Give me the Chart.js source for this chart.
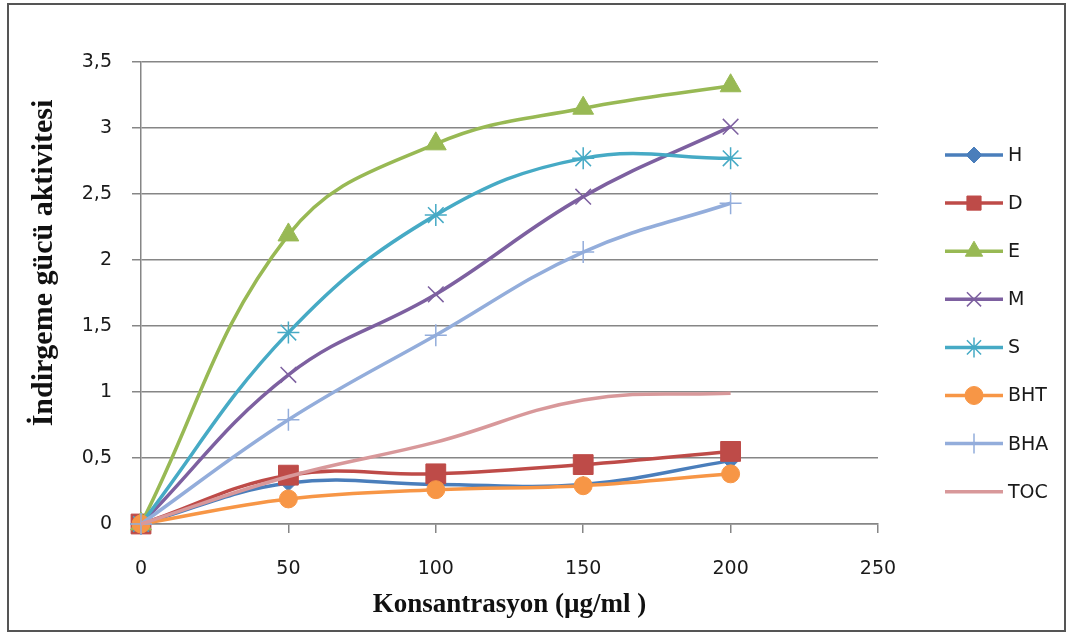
<!DOCTYPE html>
<html>
<head>
<meta charset="utf-8">
<script src="https://cdn.jsdelivr.net/npm/chart.js@4.4.1/dist/chart.umd.min.js"></script>
<style>
  body { margin: 0; background: #fff; }
  #frame { position: absolute; left: 7px; top: 3px; width: 1059px; height: 629px; border: 2px solid #555; box-sizing: border-box; }
  #myChart { position: absolute; left: 0; top: 0; }
</style>
</head>
<body>
<div id="frame"></div>
<canvas id="myChart" width="1071" height="636"></canvas>
<script>
// concentrations (µg/ml) and reducing power values per sample
const concentrations = [0, 50, 100, 150, 200];
const seriesNames = ['H', 'D', 'E', 'M', 'S', 'BHT', 'BHA', 'TOC'];
const valuesH = [0, 0.31, 0.30, 0.30, 0.48];
const valuesD = [0, 0.37, 0.38, 0.45, 0.55];
const valuesE = [0, 2.19, 2.88, 3.15, 3.32];
const valuesM = [0, 1.13, 1.74, 2.48, 3.01];
const valuesS = [0, 1.45, 2.34, 2.77, 2.77];
const valuesBHT = [0, 0.19, 0.26, 0.29, 0.38];
const valuesBHA = [0, 0.79, 1.43, 2.06, 2.43];
const valuesTOC = [0, 0.36, 0.62, 0.94, 0.99];
const yTickLabels = ['0', '0,5', '1', '1,5', '2', '2,5', '3', '3,5'];
const xTickLabels = ['0', '50', '100', '150', '200', '250'];

const allValues = [valuesH, valuesD, valuesE, valuesM, valuesS, valuesBHT, valuesBHA, valuesTOC];
const colors = ['#4A7EBB', '#BE4B48', '#98B954', '#7D60A0', '#46AAC5', '#F79646', '#93ADDB', '#D8989A'];
const markers = [
  { style: 'rectRot', radius: 8, border: 1 },
  { style: 'rect', radius: 14, border: 1 },
  { style: 'triangle', radius: 12, border: 1 },
  { style: 'crossRot', radius: 11, border: 1.5 },
  { style: 'star', radius: 11, border: 1.5 },
  { style: 'circle', radius: 9, border: 1 },
  { style: 'cross', radius: 11, border: 1.5 },
  { style: false, radius: 0, border: 0 },
];

const datasets = seriesNames.map((name, i) => ({
  label: name,
  data: concentrations.map((c, j) => ({ x: c, y: allValues[i][j] })),
  borderColor: colors[i],
  backgroundColor: colors[i],
  borderWidth: 3.5,
  tension: 0.4,
  clip: false,
  pointStyle: markers[i].style,
  pointRadius: markers[i].radius,
  pointBorderWidth: markers[i].border,
  pointBackgroundColor: colors[i],
  pointBorderColor: colors[i],
  order: seriesNames.length - i,
}));

// legend drawn as line + marker, like the spreadsheet one
const lineLegend = {
  id: 'lineLegend',
  afterDraw(chart) {
    const ctx = chart.ctx;
    ctx.save();
    chart.data.datasets.forEach((ds, i) => {
      const y = 155 + i * 48.1;
      ctx.strokeStyle = ds.borderColor;
      ctx.lineWidth = 3.5;
      ctx.beginPath();
      ctx.moveTo(945, y);
      ctx.lineTo(1003, y);
      ctx.stroke();
      if (ds.pointStyle) {
        ctx.fillStyle = ds.pointBackgroundColor;
        ctx.strokeStyle = ds.pointBorderColor;
        ctx.lineWidth = ds.pointBorderWidth;
        Chart.helpers.drawPoint(ctx, {
          pointStyle: ds.pointStyle,
          radius: Math.min(ds.pointRadius, 10),
          borderWidth: ds.pointBorderWidth,
          rotation: 0,
        }, 974, y);
      }
      ctx.fillStyle = '#1a1a1a';
      ctx.font = '19px "DejaVu Sans"';
      ctx.textAlign = 'left';
      ctx.textBaseline = 'middle';
      ctx.fillText(ds.label, 1008, y + 1);
    });
    ctx.restore();
  },
};

const ctx = document.getElementById('myChart');

new Chart(ctx, {
  type: 'line',
  data: { datasets: datasets },
  plugins: [lineLegend],
  options: {
    responsive: false,
    animation: false,
    layout: { padding: { top: 62, right: 193, bottom: 0, left: 0 } },
    plugins: {
      legend: { display: false },
      tooltip: { enabled: false },
    },
    scales: {
      x: {
        type: 'linear',
        min: 0,
        max: 250,
        afterFit: (scale) => { scale.height = 112; },
        ticks: {
          stepSize: 50,
          padding: 25,
          color: '#1a1a1a',
          font: { family: 'DejaVu Sans', size: 19 },
          callback: (v, i) => xTickLabels[i],
        },
        grid: { drawOnChartArea: false, tickLength: 9, color: '#868686', lineWidth: 1.5 },
        border: { color: '#868686', width: 1.5 },
        title: {
          display: true,
          text: 'Konsantrasyon (µg/ml )',
          color: '#111',
          font: { family: 'Liberation Serif', size: 27, weight: 'bold' },
          padding: { top: 0, bottom: 15 },
        },
      },
      y: {
        min: 0,
        max: 3.5,
        afterFit: (scale) => { scale.width = 141; },
        ticks: {
          stepSize: 0.5,
          padding: 20,
          color: '#1a1a1a',
          font: { family: 'DejaVu Sans', size: 19 },
          callback: (v, i) => yTickLabels[i],
        },
        grid: { tickLength: 9, color: '#868686', lineWidth: 1.5 },
        border: { color: '#868686', width: 1.5 },
        title: {
          display: true,
          // leading spaces lift the title a little above the axis centre, as in the original
          text: '        İndirgeme gücü aktivitesi',
          color: '#111',
          font: { family: 'Liberation Serif', size: 30, weight: 'bold' },
          padding: { top: 26, bottom: 0 },
        },
      },
    },
  },
});
</script>
</body>
</html>
